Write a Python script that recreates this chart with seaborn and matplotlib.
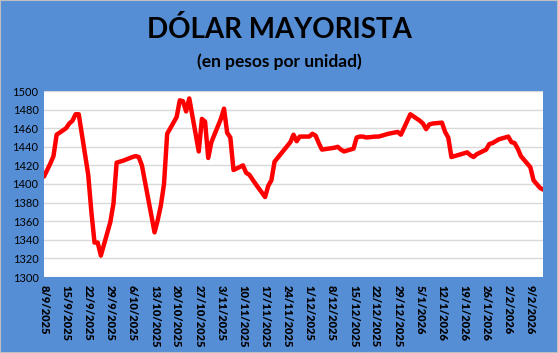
import pandas as pd
import matplotlib.pyplot as plt
import seaborn as sns

# Dólar mayorista (ARS per USD), business days
dates = [
    "2025-09-08", "2025-09-09", "2025-09-10", "2025-09-11", "2025-09-12",
    "2025-09-15", "2025-09-16", "2025-09-17", "2025-09-18", "2025-09-19",
    "2025-09-22", "2025-09-23", "2025-09-24", "2025-09-25", "2025-09-26",
    "2025-09-29", "2025-09-30", "2025-10-01", "2025-10-02", "2025-10-03",
    "2025-10-06", "2025-10-07", "2025-10-08", "2025-10-09",
    "2025-10-13", "2025-10-14", "2025-10-15", "2025-10-16", "2025-10-17",
    "2025-10-20", "2025-10-21", "2025-10-22", "2025-10-23", "2025-10-24",
    "2025-10-27", "2025-10-28", "2025-10-29", "2025-10-30", "2025-10-31",
    "2025-11-03", "2025-11-04", "2025-11-05", "2025-11-06", "2025-11-07",
    "2025-11-10", "2025-11-11", "2025-11-12", "2025-11-13", "2025-11-14",
    "2025-11-17", "2025-11-18", "2025-11-19", "2025-11-20",
    "2025-11-25", "2025-11-26", "2025-11-27", "2025-11-28",
    "2025-12-01", "2025-12-02", "2025-12-03", "2025-12-04", "2025-12-05",
    "2025-12-09", "2025-12-10", "2025-12-11", "2025-12-12",
    "2025-12-15", "2025-12-16", "2025-12-17", "2025-12-18", "2025-12-19",
    "2025-12-22", "2025-12-23", "2025-12-24", "2025-12-26",
    "2025-12-29", "2025-12-30", "2026-01-02",
    "2026-01-05", "2026-01-06", "2026-01-07", "2026-01-08", "2026-01-09",
    "2026-01-12", "2026-01-13", "2026-01-14", "2026-01-15", "2026-01-16",
    "2026-01-19", "2026-01-20", "2026-01-21", "2026-01-22", "2026-01-23",
    "2026-01-26", "2026-01-27", "2026-01-28", "2026-01-29", "2026-01-30",
    "2026-02-02", "2026-02-03", "2026-02-04", "2026-02-05", "2026-02-06",
    "2026-02-09", "2026-02-10", "2026-02-11", "2026-02-12", "2026-02-13",
]
values = [
    1408, 1415, 1422, 1430, 1453,
    1460, 1465, 1468, 1475, 1475,
    1410, 1370, 1337, 1337, 1323,
    1359, 1379, 1423, 1424, 1425,
    1429, 1430, 1429, 1420,
    1348, 1361, 1377, 1400, 1454,
    1472, 1490, 1489, 1478, 1492,
    1435, 1470, 1467, 1428, 1445,
    1470, 1481, 1455, 1450, 1415,
    1420, 1412, 1410, 1405, 1400,
    1386, 1398, 1404, 1424,
    1445, 1453, 1446, 1451,
    1451, 1454, 1452, 1444, 1437,
    1439, 1440, 1437, 1435,
    1438, 1450, 1451, 1451, 1450,
    1451, 1451, 1452, 1454,
    1456, 1453, 1475,
    1468, 1465, 1459, 1464, 1465,
    1466, 1456, 1450, 1429, 1430,
    1433, 1434, 1431, 1429, 1432,
    1437, 1443, 1444, 1446, 1448,
    1451, 1445, 1444, 1438, 1430,
    1418, 1404, 1400, 1396, 1394,
]
y_ticks = [1300, 1320, 1340, 1360, 1380, 1400, 1420, 1440, 1460, 1480, 1500]

df = pd.DataFrame({"fecha": pd.to_datetime(dates), "valor": values})

bg = "#558ED5"
sns.set_style("white")
plt.rcParams["font.family"] = ["Lato", "DejaVu Sans"]
plt.rcParams["text.color"] = "black"
plt.rcParams["xtick.color"] = "black"
plt.rcParams["ytick.color"] = "black"

fig = plt.figure(figsize=(5.58, 3.53), dpi=100, facecolor=bg)
ax = fig.add_axes([44 / 558, 1 - 277 / 353, (543 - 44) / 558, (277 - 91) / 353])

sns.lineplot(data=df, x="fecha", y="valor", color="#FF0000", linewidth=3.2, ax=ax)

ax.set_facecolor("white")
ax.set_ylim(1300, 1500)
ax.set_yticks(y_ticks)
ax.set_xlim(pd.Timestamp("2025-09-08"), pd.Timestamp("2026-02-13"))
ticks = pd.date_range("2025-09-08", "2026-02-13", freq="7D")
ax.set_xticks(ticks)
ax.set_xticklabels([f"{d.day}/{d.month}/{d.year}" for d in ticks],
                   rotation=270, fontsize=8, fontweight="heavy")
ax.tick_params(axis="y", labelsize=8, length=0, pad=4, labelcolor="black")
ax.tick_params(axis="x", length=4, color="#D9D9D9", pad=2, labelcolor="black")
ax.grid(axis="y", color="#D9D9D9", linewidth=1)
ax.set_axisbelow(True)
for s in ax.spines.values():
    s.set_visible(False)
ax.set_xlabel("")
ax.set_ylabel("")

fig.text(0.5, 1 - 30 / 353, "DÓLAR MAYORISTA", ha="center", va="center",
         fontsize=20, fontweight="bold", color="black")
fig.text(0.5, 1 - 62 / 353, "(en pesos por unidad)", ha="center", va="center",
         fontsize=12.5, fontweight="bold", color="black")

fig.patches.append(plt.Rectangle((0, 0), 1, 1, transform=fig.transFigure,
                                 fill=False, edgecolor="#BFBFBF", linewidth=1.5))

fig.savefig("out.png", dpi=100, facecolor=bg)
